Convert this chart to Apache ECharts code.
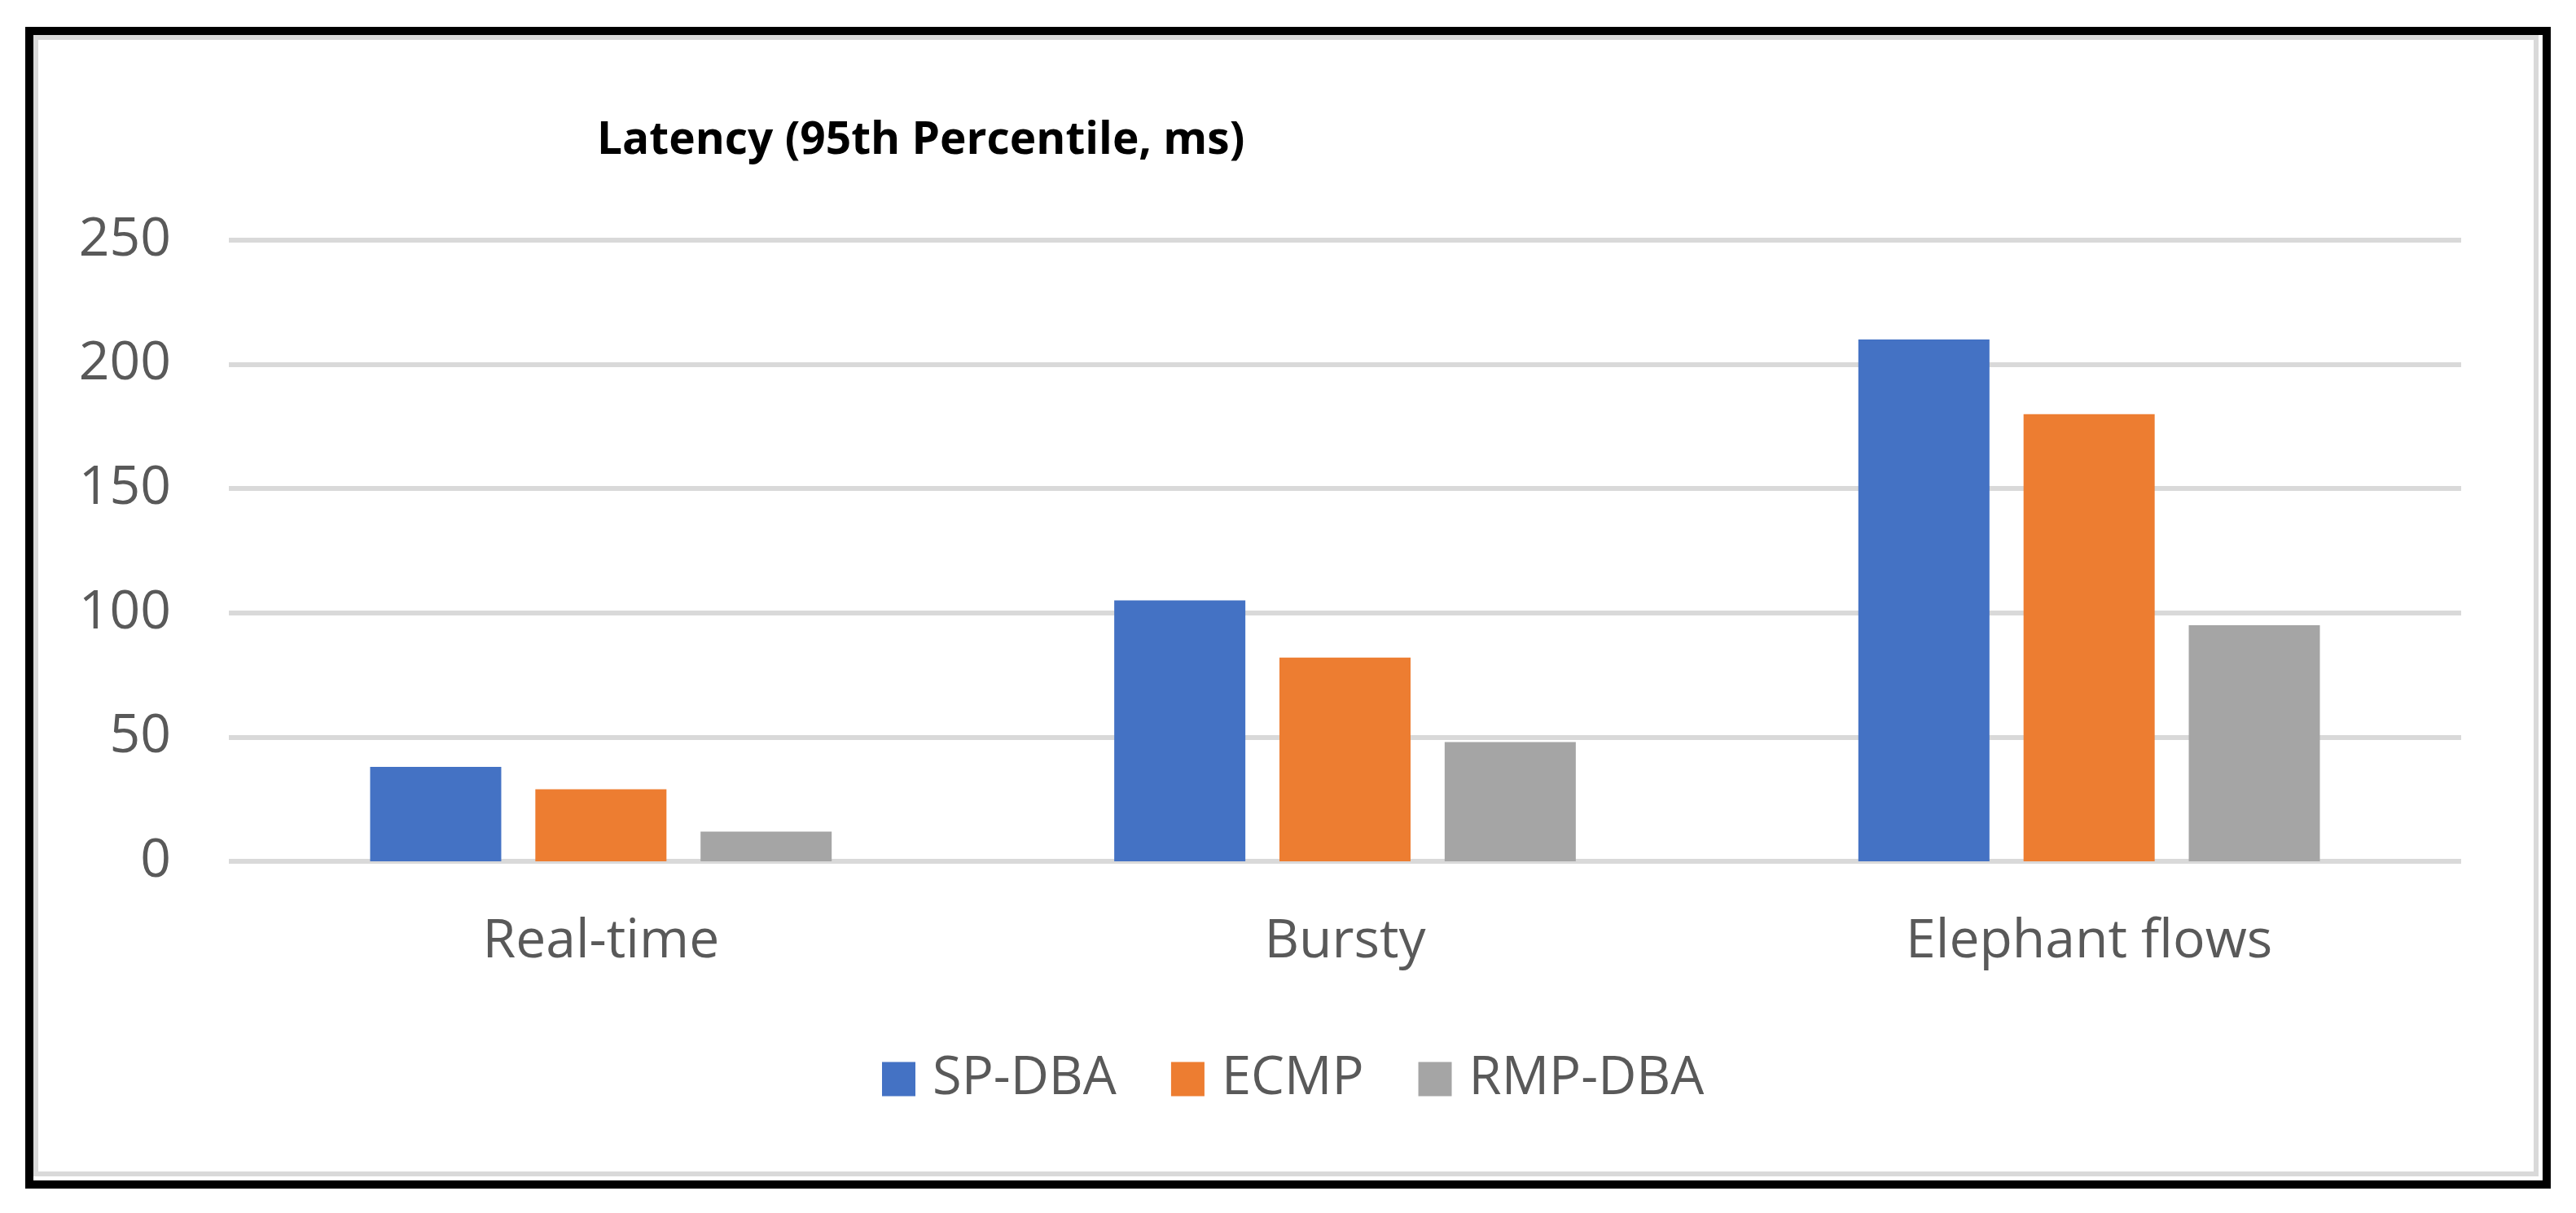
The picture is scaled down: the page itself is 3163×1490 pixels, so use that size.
<!DOCTYPE html>
<html>
<head>
<meta charset="utf-8">
<script src="https://cdn.jsdelivr.net/npm/echarts@6/dist/echarts.min.js"></script>
<style>
html,body{margin:0;padding:0;background:#fff;}
#chart{width:3163px;height:1490px;}
</style>
</head>
<body>
<div id="chart"></div>
<script>
const categories = ['Real-time', 'Bursty', 'Elephant flows'];
const spDba = [38, 105, 210];
const ecmp = [29, 82, 180];
const rmpDba = [12, 48, 95];
const seriesNames = ['SP-DBA', 'ECMP', 'RMP-DBA'];
const colors = ['#4472C4', '#ED7D31', '#A5A5A5'];
const titleText = 'Latency (95th Percentile, ms)';

const chart = echarts.init(document.getElementById('chart'), null, {renderer: 'canvas'});
const font = '"Open Sans", "Noto Sans", sans-serif';

function bar(name, data, color) {
  return {
    name: name, type: 'bar', data: data,
    barWidth: 161, barGap: '26%',
    itemStyle: {color: color},
    emphasis: {disabled: true}
  };
}

chart.setOption({
  animation: false,
  backgroundColor: '#ffffff',
  title: {
    text: titleText,
    left: 728, top: 141,
    textStyle: {fontFamily: font, fontWeight: 'bold', fontSize: 55, color: '#000000'}
  },
  legend: {
    data: seriesNames,
    left: 1078, top: 1288,
    itemWidth: 41, itemHeight: 42, itemGap: 67,
    icon: 'rect',
    textStyle: {fontFamily: font, fontSize: 65, color: '#595959', padding: [0, 0, 0, 16]}
  },
  grid: {left: 281, right: 141, top: 295, bottom: 432, containLabel: false},
  xAxis: {
    type: 'category', data: categories,
    axisLine: {show: false}, axisTick: {show: false},
    axisLabel: {fontFamily: font, fontSize: 66, color: '#595959', margin: 66}
  },
  yAxis: {
    type: 'value', min: 0, max: 250, interval: 50,
    axisLine: {show: false}, axisTick: {show: false},
    axisLabel: {fontFamily: font, fontSize: 66, color: '#595959', margin: 71},
    splitLine: {lineStyle: {color: '#d9d9d9', width: 6}}
  },
  series: [
    bar(seriesNames[0], spDba, colors[0]),
    bar(seriesNames[1], ecmp, colors[1]),
    bar(seriesNames[2], rmpDba, colors[2])
  ],
  graphic: [
    {type: 'rect', z: 100, silent: true, shape: {x: 44, y: 46, width: 3070, height: 1396},
     style: {fill: 'none', stroke: '#d9d9d9', lineWidth: 6}},
    {type: 'rect', z: 101, silent: true, shape: {x: 36, y: 38, width: 3091, height: 1417},
     style: {fill: 'none', stroke: '#000000', lineWidth: 10}}
  ]
});
</script>
</body>
</html>
